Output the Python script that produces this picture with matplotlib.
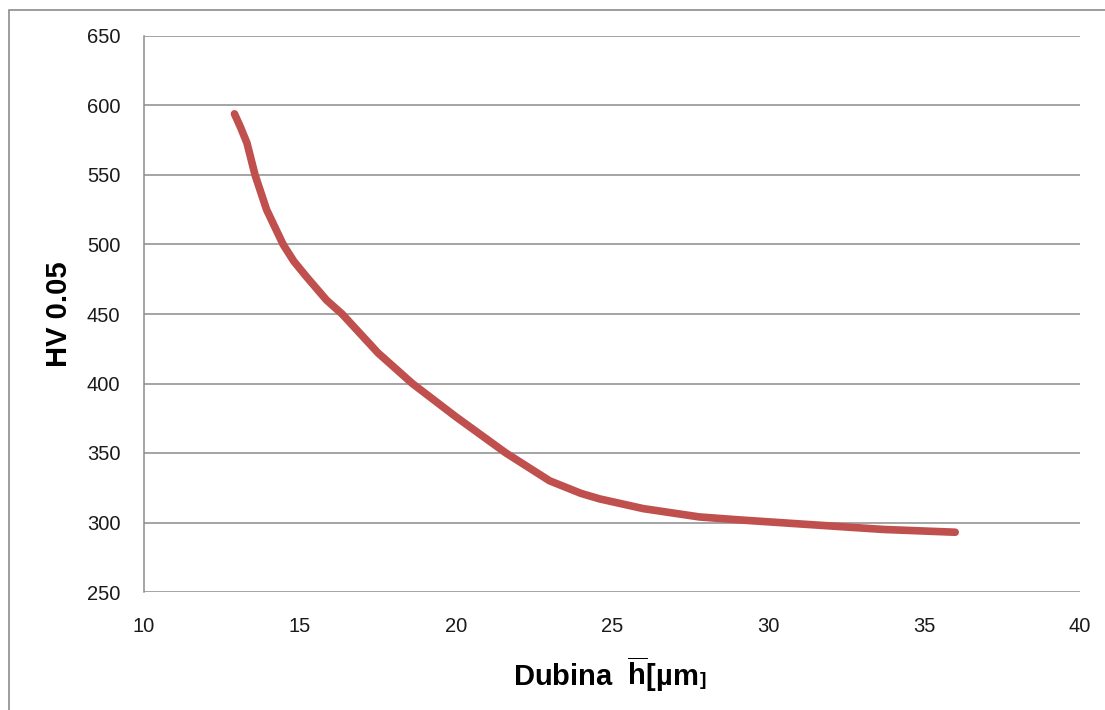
import numpy as np
import matplotlib
matplotlib.use("Agg")
import matplotlib.pyplot as plt
from matplotlib.patches import Rectangle

plt.rcParams["font.family"] = ["Liberation Sans", "DejaVu Sans"]
plt.rcParams["mathtext.fontset"] = "custom"
plt.rcParams["mathtext.rm"] = "Liberation Sans:bold"
plt.rcParams["mathtext.bf"] = "Liberation Sans:bold"

# ─── Data ────────────────────────────────────────────────────────────────────
depth_um = [12.9, 13.1, 13.3, 13.56, 13.93, 14.46, 14.8, 15.2, 15.85, 16.35,
            17.5, 18.6, 20.0, 21.6, 23.0, 24.0, 24.6, 26.0, 27.8, 29.0,
            31.0, 33.7, 36.0]
hv_005 = [594, 584, 573, 550, 525, 500, 488, 477, 460, 450,
          422, 400, 376, 350, 330, 321, 317, 310, 304, 302,
          299, 295, 293]

x_ticks = [10, 15, 20, 25, 30, 35, 40]
y_ticks = [250, 300, 350, 400, 450, 500, 550, 600, 650]

LINE_COLOR = "#C0504D"
GRID_COLOR = "#8C8C8C"

fig = plt.figure(figsize=(11.05, 7.10), dpi=100)
fig.patch.set_facecolor("white")

# outer chart frame (top + left edges visible)
fig.patches.append(Rectangle((9 / 1105, -0.05), 1.2, 1 - 10 / 710 + 0.05,
                             transform=fig.transFigure, fill=False,
                             edgecolor="#8C8C8C", linewidth=1.2))

ax = fig.add_axes([144 / 1105, 1 - 592 / 710, (1080 - 144) / 1105, (592 - 36) / 710])
ax.plot(depth_um, hv_005, color=LINE_COLOR, linewidth=5.5,
        solid_capstyle="round", solid_joinstyle="round", zorder=3)

ax.set_xlim(10, 40)
ax.set_ylim(250, 650)
ax.set_xticks(x_ticks)
ax.set_yticks(y_ticks)
ax.tick_params(axis="both", length=0, labelsize=14.5, colors="#1a1a1a")
ax.tick_params(axis="y", pad=17)
ax.tick_params(axis="x", pad=18)

ax.grid(True, axis="y", color=GRID_COLOR, linewidth=1.1)
ax.set_axisbelow(True)
for side in ("top", "right", "bottom"):
    ax.spines[side].set_visible(False)
ax.spines["left"].set_color(GRID_COLOR)
ax.spines["left"].set_linewidth(1.1)

ax.set_ylabel("HV 0.05", fontsize=21, fontweight="bold", labelpad=10)

# x label: the closing bracket is drawn smaller, as in the original
xl = fig.text(612 / 1105 - 0.006, 1 - 686 / 710, r"Dubina  $\overline{\mathrm{h}}$[µm",
              fontsize=21, fontweight="bold", ha="center", va="baseline")
fig.canvas.draw()
bb = xl.get_window_extent()
fig.text((bb.x1 + 2) / 1105, 1 - 685 / 710, "]", fontsize=14, fontweight="bold",
         ha="left", va="baseline")

fig.savefig("out.png", dpi=100, facecolor="white")
